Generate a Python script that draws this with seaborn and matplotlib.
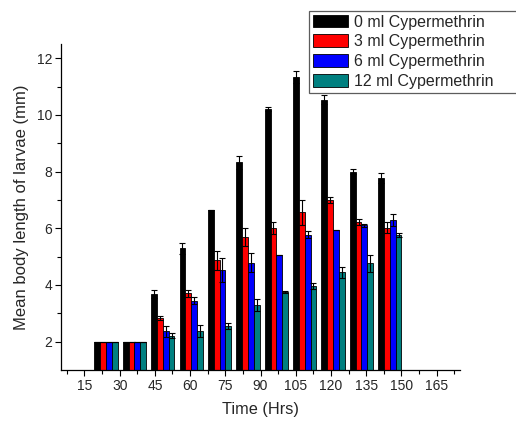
import numpy as np
import pandas as pd
import matplotlib
matplotlib.use("Agg")
import matplotlib.pyplot as plt
import seaborn as sns

# -----------------------------
# Data
# -----------------------------
points = list(range(1, 12))  # 11 sampling points
doses = ["0 ml Cypermethrin", "3 ml Cypermethrin", "6 ml Cypermethrin", "12 ml Cypermethrin"]

mean_0 = [2.0, 2.0, 3.68, 5.29, 6.64, 8.32, 10.20, 11.33, 10.54, 8.00, 7.78]
err_0 = [0.0, 0.0, 0.15, 0.20, 0.0, 0.22, 0.08, 0.20, 0.17, 0.10, 0.18]
mean_3 = [2.0, 2.0, 2.82, 3.70, 4.87, 5.69, 6.02, 6.56, 7.00, 6.21, 6.02]
err_3 = [0.0, 0.0, 0.07, 0.12, 0.33, 0.32, 0.21, 0.44, 0.12, 0.11, 0.20]
mean_6 = [2.0, 2.0, 2.37, 3.45, 4.52, 4.79, 5.06, 5.77, 5.93, 6.10, 6.28]
err_6 = [0.0, 0.0, 0.19, 0.12, 0.43, 0.35, 0.0, 0.13, 0.0, 0.05, 0.21]
mean_12 = [2.0, 2.0, 2.21, 2.38, 2.56, 3.30, 3.76, 3.96, 4.44, 4.76, 5.75]
err_12 = [0.0, 0.0, 0.08, 0.20, 0.11, 0.22, 0.04, 0.11, 0.21, 0.31, 0.07]

tick_hours = [15, 30, 45, 60, 75, 90, 105, 120, 135, 150, 165]

means = [mean_0, mean_3, mean_6, mean_12]
errs = [err_0, err_3, err_6, err_12]
colors = ["#000000", "#ff0000", "#0000ff", "#008080"]

rows = []
for dose, m in zip(doses, means):
    for p, v in zip(points, m):
        rows.append({"point": p, "dose": dose, "length": v})
df = pd.DataFrame(rows)

# -----------------------------
# Plot
# -----------------------------
sns.set_style("ticks")
plt.rcParams["font.family"] = ["Liberation Sans", "DejaVu Sans"]

fig = plt.figure(figsize=(5.16, 4.21), dpi=100)
ax = fig.add_axes([0.1182, 0.1211, 0.7733, 0.7744])

sns.barplot(data=df, x="point", y="length", hue="dose", hue_order=doses,
            palette=colors, width=0.82, errorbar=None, edgecolor="black",
            linewidth=0.6, saturation=1, ax=ax)

for cont, e in zip(ax.containers, errs):
    xs = [b.get_x() + b.get_width() / 2 for b in cont]
    ys = [b.get_height() for b in cont]
    ax.errorbar(xs, ys, yerr=e, fmt="none", ecolor="black", elinewidth=0.8,
                capsize=2.2, capthick=0.8, zorder=3)

# time axis: hours mapped onto the group positions
def hrs(t):
    return (np.asarray(t, dtype=float) - 24.2) / 12.09

ax.set_xlim(hrs(5), hrs(175))
ax.set_xticks(hrs(tick_hours))
ax.set_xticklabels([str(t) for t in tick_hours])
ax.set_xticks(hrs(np.array(tick_hours) - 7.5).tolist() + [float(hrs(172.5))], minor=True)

ax.set_ylim(1, 12.5)
ax.set_yticks([2, 4, 6, 8, 10, 12])
ax.set_yticks([3, 5, 7, 9, 11], minor=True)

ax.tick_params(axis="both", which="major", direction="out", length=4.2, width=0.8,
               labelsize=10, color="black", pad=2)
ax.tick_params(axis="both", which="minor", direction="out", length=2.6, width=0.8,
               color="black")

ax.set_xlabel("Time (Hrs)", fontsize=11.7, labelpad=7)
ax.set_ylabel("Mean body length of larvae (mm)", fontsize=12, labelpad=6)

sns.despine(ax=ax)
for s in ["left", "bottom"]:
    ax.spines[s].set_linewidth(0.9)
    ax.spines[s].set_color("black")

handles, labels = ax.get_legend_handles_labels()
if ax.get_legend() is not None:
    ax.get_legend().remove()
# legend box runs off the right edge, as in the original
leg = fig.legend(handles, labels, loc="upper left",
                 bbox_to_anchor=(309 / 516, 0.5, 225 / 516, 0.475), mode="expand",
                 bbox_transform=fig.transFigure, fontsize=11.5, frameon=True,
                 fancybox=False, borderaxespad=0, borderpad=0.25, labelspacing=0.3,
                 handlelength=2.2, handleheight=0.85, handletextpad=0.35)
leg.get_frame().set_edgecolor("#333333")
leg.get_frame().set_linewidth(0.9)

fig.savefig("out.png", dpi=100)
plt.close(fig)
